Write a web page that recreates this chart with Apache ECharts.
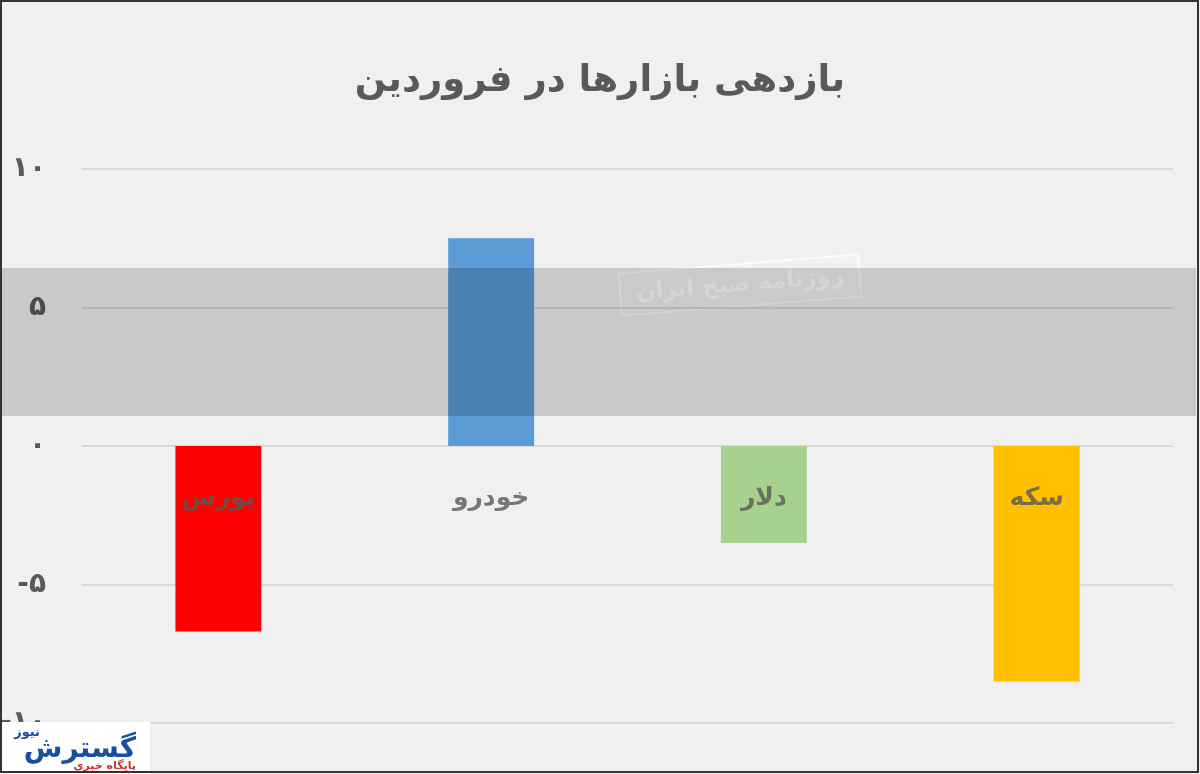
<!DOCTYPE html>
<html><head><meta charset="utf-8">
<script src="https://cdn.jsdelivr.net/npm/echarts@6/dist/echarts.min.js"></script>
<style>html,body{margin:0;padding:0;background:#f0f0f0;overflow:hidden}#c{width:1200px;height:774px}</style>
</head><body><div id="c"></div>
<script>
const title = 'بازدهی بازارها در فروردین';
const categories = ['بورس', 'خودرو', 'دلار', 'سکه'];
const values = [-6.7, 7.5, -3.5, -8.5];
const colors = ['#ff0000', '#5b9bd5', '#a9d18e', '#ffc000'];
const yTicks = {min: -10, max: 10, interval: 5};
const faDigits = '۰۱۲۳۴۵۶۷۸۹';
function toFa(v){ return String(v).replace(/[0-9]/g, d => faDigits[+d]); }

const chart = echarts.init(document.getElementById('c'), null, {renderer: 'canvas'});
chart.setOption({
  backgroundColor: '#f0f0f0',
  animation: false,
  title: {
    text: title, left: 'center', top: 58,
    textStyle: {fontFamily: 'DejaVu Sans', fontWeight: 'bold', fontSize: 37, color: '#595959'}
  },
  grid: {left: 82, right: 27, top: 169, bottom: 51, containLabel: false, outerBoundsMode: 'none'},
  xAxis: {
    type: 'category', data: categories,
    axisLine: {show: false}, axisTick: {show: false}, axisLabel: {show: false}
  },
  yAxis: {
    type: 'value', min: yTicks.min, max: yTicks.max, interval: yTicks.interval,
    axisLine: {show: false}, axisTick: {show: false},
    axisLabel: {margin: 36, padding: [0, 0, 8, 0], fontFamily: 'DejaVu Sans', fontWeight: 'bold', fontSize: 28, color: '#595959', formatter: v => toFa(v)},
    splitLine: {lineStyle: {color: '#d9d9d9', width: 2}}
  },
  series: [{
    type: 'bar', barWidth: '31.5%',
    data: values.map((v, i) => ({value: v, itemStyle: {color: colors[i]}}))
  }, {
    type: 'scatter', symbolSize: 0, z: 20, silent: true,
    data: categories.map(c => [c, 0]),
    label: {show: true, position: 'bottom', distance: 40, formatter: p => p.data[0],
      fontFamily: 'DejaVu Sans', fontWeight: 'bold', fontSize: 25, color: '#595959'}
  }],
  graphic: [
    {type: 'rect', shape: {x: 2, y: 268, width: 1194, height: 148}, style: {fill: 'rgba(0,0,0,0.16)'}, z: 50, silent: true},
    {type: 'group', x: 740, y: 285, rotation: 0.08, z: 51, silent: true, children: [
      {type: 'rect', shape: {x: -120, y: -21, width: 240, height: 42}, style: {fill: 'rgba(255,255,255,0.1)', stroke: 'rgba(255,255,255,0.8)', lineWidth: 2}},
      {type: 'text', x: 0, y: 0, style: {text: 'روزنامه صبح ایران', fontFamily: 'DejaVu Sans', fontWeight: 'bold', fontSize: 23, fill: 'rgba(255,255,255,0.88)', align: 'center', verticalAlign: 'middle'}}
    ]},
    {type: 'rect', shape: {x: 0, y: 722, width: 150, height: 52}, style: {fill: '#ffffff'}, z: 60, silent: true},
    {type: 'text', x: 136, y: 750, z: 61, style: {text: 'گسترش', fontFamily: 'DejaVu Sans', fontWeight: 'bold', fontSize: 28, fill: '#1a4fa0', align: 'right', verticalAlign: 'middle'}},
    {type: 'text', x: 40, y: 733, z: 62, style: {text: 'نیوز', fontFamily: 'DejaVu Sans', fontWeight: 'bold', fontSize: 13, fill: '#1a4fa0', align: 'right', verticalAlign: 'middle', backgroundColor: '#ffffff'}},
    {type: 'text', x: 136, y: 766, z: 62, style: {text: 'پایگاه خبری', fontFamily: 'DejaVu Sans', fontWeight: 'bold', fontSize: 11, fill: '#d32f2f', align: 'right', verticalAlign: 'middle'}},
    {type: 'rect', shape: {x: 1, y: 1, width: 1197, height: 771}, style: {fill: 'none', stroke: '#333333', lineWidth: 2}, z: 70, silent: true}
  ]
});
</script></body></html>
